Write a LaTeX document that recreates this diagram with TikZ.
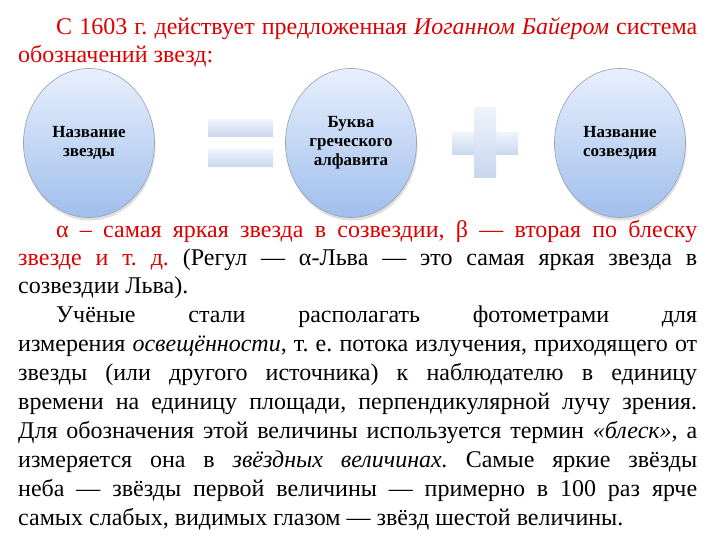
\documentclass[tikz,border=0pt]{standalone}
\usepackage{fontspec}
\setmainfont{Liberation Serif}
\frenchspacing
\usetikzlibrary{shapes.geometric,shadows}
\definecolor{redtxt}{RGB}{220,0,0}
\definecolor{elltop}{RGB}{232,240,252}
\definecolor{ellbot}{RGB}{160,190,236}
\definecolor{ellline}{RGB}{150,160,180}
\definecolor{bartop}{RGB}{238,243,251}
\definecolor{barbot}{RGB}{200,215,238}
\tikzset{
  bubble/.style={ellipse, minimum width=131pt, minimum height=149pt, draw=ellline, line width=0.6pt,
    top color=elltop, bottom color=ellbot, font=\fontsize{17}{19}\selectfont\bfseries, align=center,
    drop shadow={shadow xshift=1pt, shadow yshift=-3pt, opacity=0.25}},
  bar/.style={draw=none, top color=bartop, bottom color=barbot},
  line/.style={anchor=base west, inner sep=0pt, font=\fontsize{24}{29}\selectfont},
}
\begin{document}
\begin{tikzpicture}[x=1pt,y=-1pt]
\useasboundingbox[fill=white] (0,0) rectangle (720,540);
% circles
\node[bubble] (a) at (89,143) {Название\\звезды};
\node[bubble] (b) at (351,143) {Буква\\греческого\\алфавита};
\node[bubble] (c) at (620,143) {Название\\созвездия};
% equals
\path[bar] (208,120) rectangle (273,137);
\path[bar] (208,150) rectangle (273,167);
% plus
\path[bar] (452,133) rectangle (518,155);
\path[bar] (474,108) rectangle (496,178);
% text
\node[line, text=redtxt] (l1) at (56,35) {\hbox to 641pt{С 1603 г. действует предложенная \textit{Иоганном Байером} система}};
\node[line, text=redtxt] (l2) at (18,63) {обозначений звезд:};
\node[line, text=redtxt] (l3) at (56,237) {\hbox to 641pt{α – самая яркая звезда в созвездии, β — вторая по блеску}};
\node[line] (l4) at (18,265) {\hbox to 679pt{\textcolor{redtxt}{звезде и т. д.} (Регул — α-Льва — это самая яркая звезда в}};
\node[line] (l5) at (18,293) {созвездии Льва).};
\node[line] (l6) at (56,322) {\hbox to 641pt{Учёные стали располагать фотометрами для}};
\node[line] (l7) at (18,351) {\hbox to 679pt{измерения \textit{освещённости}, т. е. потока излучения, приходящего от}};
\node[line] (l8) at (18,380) {\hbox to 679pt{звезды (или другого источника) к наблюдателю в единицу}};
\node[line] (l9) at (18,409) {\hbox to 679pt{времени на единицу площади, перпендикулярной лучу зрения.}};
\node[line] (l10) at (18,438) {\hbox to 679pt{Для обозначения этой величины используется термин \textit{«блеск»}, а}};
\node[line] (l11) at (18,467) {\hbox to 679pt{измеряется она в \textit{звёздных величинах.} Самые яркие звёзды}};
\node[line] (l12) at (18,496) {\hbox to 679pt{неба — звёзды первой величины — примерно в 100 раз ярче}};
\node[line] (l13) at (18,525) {самых слабых, видимых глазом — звёзд шестой величины.};
\end{tikzpicture}
\end{document}
